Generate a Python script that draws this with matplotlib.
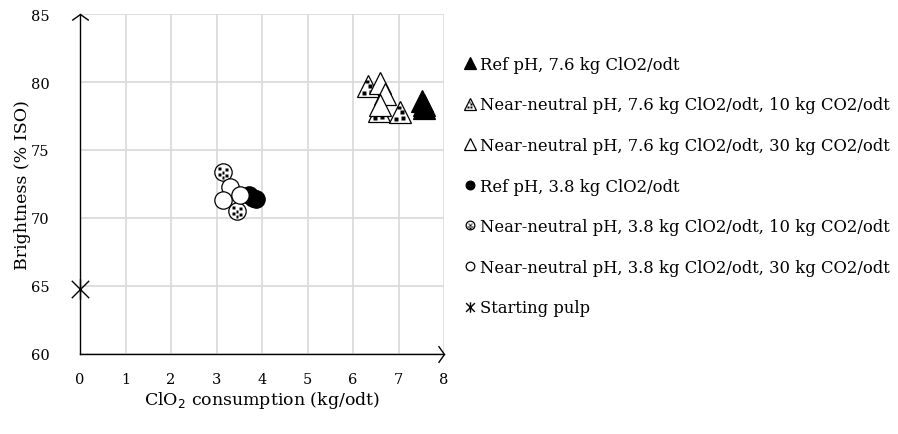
import numpy as np
import matplotlib.pyplot as plt
from matplotlib.path import Path
from matplotlib.legend_handler import HandlerTuple

plt.rcParams['font.family'] = ['DejaVu Serif']

# ClO2 consumption (kg/odt) and brightness (% ISO) per series
ref76_x = [7.52, 7.55, 7.57]
ref76_y = [78.6, 78.3, 78.1]
nn76_10_x = [6.33, 6.58, 7.03]
nn76_10_y = [79.7, 77.9, 77.8]
nn76_30_x = [6.59, 6.70, 6.59]
nn76_30_y = [79.9, 79.1, 78.3]
ref38_x = [3.72, 3.80, 3.86]
ref38_y = [71.7, 71.5, 71.4]
nn38_10_x = [3.14, 3.45]
nn38_10_y = [73.4, 70.5]
nn38_30_x = [3.30, 3.14, 3.52]
nn38_30_y = [72.3, 71.3, 71.7]
start_x = [0]
start_y = [64.8]

labels = ['Ref pH, 7.6 kg ClO2/odt',
          'Near-neutral pH, 7.6 kg ClO2/odt, 10 kg CO2/odt',
          'Near-neutral pH, 7.6 kg ClO2/odt, 30 kg CO2/odt',
          'Ref pH, 3.8 kg ClO2/odt',
          'Near-neutral pH, 3.8 kg ClO2/odt, 10 kg CO2/odt',
          'Near-neutral pH, 3.8 kg ClO2/odt, 30 kg CO2/odt',
          'Starting pulp']


def squares(centres, h):
    verts, codes = [], []
    for cx, cy in centres:
        verts += [(cx - h, cy - h), (cx + h, cy - h), (cx + h, cy + h), (cx - h, cy + h), (cx - h, cy - h)]
        codes += [Path.MOVETO, Path.LINETO, Path.LINETO, Path.LINETO, Path.CLOSEPOLY]
    # anchor the extent so the pattern scales like the outline marker
    verts += [(-1, -1), (1, 1)]
    codes += [Path.MOVETO, Path.MOVETO]
    return Path(verts, codes)


# small black squares used as a fill pattern inside markers
tri_dots = squares([(0.2, 0.0), (-0.35, -0.6), (0.25, -0.55), (-0.1, 0.4)], 0.17)
circ_dots = squares([(-0.4, 0.35), (0.35, 0.3), (0.0, -0.05), (-0.45, -0.3), (0.45, -0.35), (0.0, -0.65)], 0.17)
# star marker: an X with a vertical stroke
star = Path([(-1, -1), (1, 1), (-1, 1), (1, -1), (0, -1.2), (0, 1.2)],
            [Path.MOVETO, Path.LINETO, Path.MOVETO, Path.LINETO, Path.MOVETO, Path.LINETO])

fig = plt.figure(figsize=(8.98, 4.35), dpi=100)
ax = fig.add_axes([80 / 898, 80 / 435, 364 / 898, 340 / 435])

tri_ms = 16
circ_ms = 12.5
ew = 0.9

h1, = ax.plot(ref76_x, ref76_y, '^', ms=tri_ms, mfc='black', mec='black', mew=ew, ls='none')
h2a, = ax.plot(nn76_10_x, nn76_10_y, '^', ms=tri_ms, mfc='white', mec='black', mew=ew, ls='none')
h2b, = ax.plot(nn76_10_x, nn76_10_y, marker=tri_dots, ms=tri_ms, mfc='black', mec='none', ls='none')
h3, = ax.plot(nn76_30_x, nn76_30_y, '^', ms=tri_ms, mfc='white', mec='black', mew=ew, ls='none')
h4, = ax.plot(ref38_x, ref38_y, 'o', ms=circ_ms, mfc='black', mec='black', mew=ew, ls='none')
h5a, = ax.plot(nn38_10_x, nn38_10_y, 'o', ms=circ_ms, mfc='white', mec='black', mew=ew, ls='none')
h5b, = ax.plot(nn38_10_x, nn38_10_y, marker=circ_dots, ms=circ_ms, mfc='black', mec='none', ls='none')
h6, = ax.plot(nn38_30_x, nn38_30_y, 'o', ms=circ_ms, mfc='white', mec='black', mew=ew, ls='none')
h7, = ax.plot(start_x, start_y, marker=star, ms=15, mfc='none', mec='black', mew=1.0, ls='none',
              clip_on=False, zorder=5)

ax.set_xlim(0, 8)
ax.set_ylim(60, 85)
ax.set_xticks(range(0, 9))
ax.set_yticks(range(60, 86, 5))
ax.grid(True, color='#d9d9d9', lw=1.2)
ax.set_axisbelow(True)
ax.tick_params(axis='x', length=0, labelsize=10.5, pad=13)
ax.tick_params(axis='y', length=0, labelsize=10.5, pad=22)
for s in ['top', 'right']:
    ax.spines[s].set_visible(False)
for s in ['left', 'bottom']:
    ax.spines[s].set_color('black')
    ax.spines[s].set_linewidth(1.0)
ax.plot([1], [0], marker=(Path([(-1, 1.4), (0, 0), (-1, -1.4)], [Path.MOVETO, Path.LINETO, Path.LINETO])),
        ms=12, mfc='none', mec='black', mew=1, transform=ax.transAxes, clip_on=False)
ax.plot([0], [1], marker=(Path([(-1.4, -1), (0, 0), (1.4, -1)], [Path.MOVETO, Path.LINETO, Path.LINETO])),
        ms=12, mfc='none', mec='black', mew=1, transform=ax.transAxes, clip_on=False)

ax.set_xlabel('ClO$_2$ consumption (kg/odt)', fontsize=12.5, labelpad=2)
ax.set_ylabel('Brightness (% ISO)', fontsize=12.5, labelpad=0)

handles = [h1, (h2a, h2b), h3, h4, (h5a, h5b), h6, h7]
leg = fig.legend(handles, labels, loc='upper left', bbox_to_anchor=(450 / 898, 1 - 42 / 435),
                 frameon=False, fontsize=11.8, markerscale=0.5, handlelength=0.6, handletextpad=0.35,
                 labelspacing=1.44, handler_map={tuple: HandlerTuple(ndivide=1, pad=0)})

fig.savefig('out.png', dpi=100)
